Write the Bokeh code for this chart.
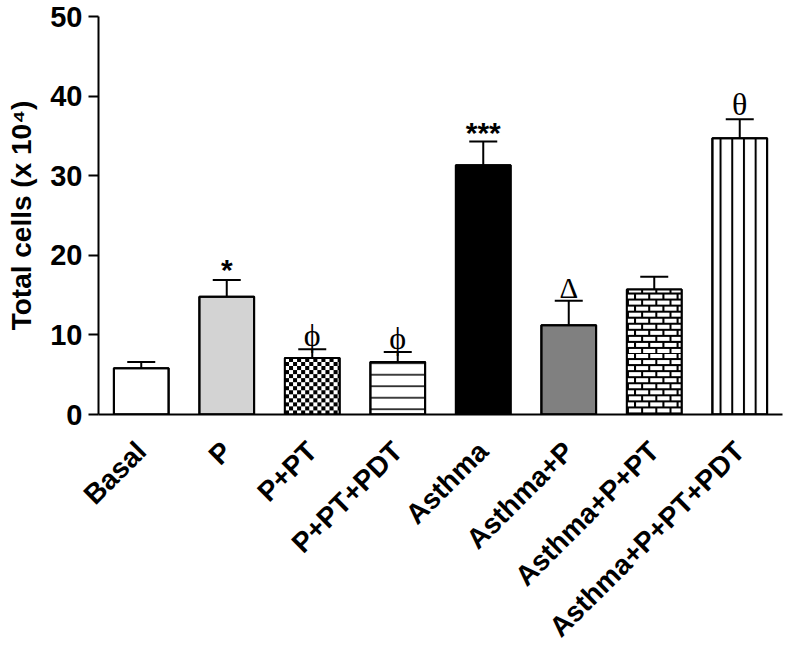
import math
import numpy as np
from bokeh.plotting import figure
from bokeh.models import (ColumnDataSource, Range1d, FactorRange, Whisker, TeeHead,
                          FixedTicker)
from bokeh.transform import dodge
from bokeh.embed import file_html
from bokeh.resources import INLINE

# ---- data ----
groups = ["Basal", "P", "P+PT", "P+PT+PDT", "Asthma", "Asthma+P",
          "Asthma+P+PT", "Asthma+P+PT+PDT"]
means = [5.8, 14.8, 7.1, 6.6, 31.3, 11.2, 15.7, 34.7]
sems = [0.8, 2.1, 1.1, 1.25, 3.0, 3.1, 1.6, 2.4]
marks = ["", "*", "ϕ", "ϕ", "***", "Δ", "", "θ"]
y_ticks = [0, 10, 20, 30, 40, 50]

# ---- styles ----
BAR_W = 0.64
fills = ["white", "#d3d3d3", "white", "white", "black", "#808080", "white", "white"]
hatches = [" ", " ", " ", "-", " ", " ", " ", "|"]
hatch_scales = [12, 12, 12, 11.5, 12, 12, 12, 11.7]
hatch_weights = [1, 1, 1, 1.5, 1, 1, 1, 2]
textured = {2: "checker", 6: "brick"}   # bar index -> bitmap texture
mark_fonts = ["Liberation Sans", "Liberation Sans", "Liberation Serif", "Liberation Serif",
              "Liberation Sans", "Liberation Serif", "Liberation Serif", "Liberation Serif"]
mark_sizes = ["28px", "30px", "32px", "32px", "30px", "29px", "28px", "32px"]
mark_styles = ["normal", "bold", "normal", "normal", "bold", "normal", "normal", "normal"]
mark_offsets = [0, -10, -14, -14, -9, -13, 0, -15]

upper = [m + s for m, s in zip(means, sems)]

src = ColumnDataSource(dict(
    groups=groups, means=means, upper=upper, marks=marks,
    fills=fills, hatches=hatches, hscale=hatch_scales, hweight=hatch_weights,
    mfont=mark_fonts, msize=mark_sizes, mstyle=mark_styles, moff=mark_offsets,
))


def to_rgba(black):
    h, w = black.shape
    img = np.zeros((h, w), dtype=np.uint32)
    v = img.view(dtype=np.uint8).reshape((h, w, 4))
    g = np.where(black, 0, 255).astype(np.uint8)
    v[..., 0] = g
    v[..., 1] = g
    v[..., 2] = g
    v[..., 3] = 255
    return img


def checker_texture(h, w, cell=4):
    r = np.arange(h)[:, None] // cell
    c = np.arange(w)[None, :] // cell
    return to_rgba((r + c) % 2 == 0)


def brick_texture(h, w, row=6, bw=14, mortar=2):
    r = np.arange(h)[:, None]
    c = np.arange(w)[None, :]
    shift = ((r // row) % 2) * (bw // 2)
    return to_rgba((r % row < mortar) | (((c + shift) % bw) < mortar))


PX_PER_UNIT = 8      # approx texture resolution (pixels per y unit)
TEX_W = 55           # approx bar width in pixels
tex_groups, tex_means, tex_imgs = [], [], []
for i, kind in textured.items():
    h = int(round(means[i] * PX_PER_UNIT))
    tex_groups.append(groups[i])
    tex_means.append(means[i])
    tex_imgs.append(checker_texture(h, TEX_W) if kind == "checker" else brick_texture(h, TEX_W))
tex_src = ColumnDataSource(dict(groups=tex_groups, means=tex_means, img=tex_imgs))

p = figure(width=786, height=656, x_range=FactorRange(factors=groups),
           y_range=Range1d(0, 50), output_backend="svg", toolbar_location=None,
           min_border_left=98, min_border_top=16, min_border_right=4, min_border_bottom=10)

p.vbar(x="groups", top="means", bottom=0, width=BAR_W, source=src,
       fill_color="fills", line_color="black", line_width=2,
       hatch_pattern="hatches", hatch_scale="hscale", hatch_weight="hweight",
       hatch_color="black")

p.image_rgba(image="img", x=dodge("groups", -BAR_W / 2, range=p.x_range), y=0,
             dw=BAR_W, dh="means", source=tex_src)

p.vbar(x="groups", top="means", bottom=0, width=BAR_W, source=src,
       fill_color=None, line_color="black", line_width=2)

w = Whisker(source=src, base="groups", upper="upper", lower="means",
            dimension="height", line_width=2, line_color="black",
            upper_head=TeeHead(size=28, line_width=2, line_color="black"),
            lower_head=None)
p.add_layout(w)

p.text(x="groups", y="upper", text="marks", source=src, text_font="mfont",
       text_font_size="msize", text_font_style="mstyle", text_align="center",
       text_baseline="alphabetic", y_offset="moff", text_color="black")

p.outline_line_color = None
p.xgrid.grid_line_color = None
p.ygrid.grid_line_color = None
p.background_fill_color = "white"
p.border_fill_color = "white"

for ax in (p.xaxis[0], p.yaxis[0]):
    ax.axis_line_width = 2
    ax.axis_line_color = "black"
    ax.major_label_text_font = "Liberation Sans"
    ax.major_label_text_font_style = "bold"
    ax.major_label_text_color = "black"
    ax.minor_tick_line_color = None

p.yaxis.ticker = FixedTicker(ticks=y_ticks)
p.yaxis.major_label_text_font_size = "29px"
p.yaxis.major_tick_out = 10
p.yaxis.major_tick_in = 0
p.yaxis.major_tick_line_width = 2
p.yaxis.major_label_standoff = 6
p.yaxis.axis_label = "Total cells (x 10⁴)"
p.yaxis.axis_label_text_font = "Liberation Sans"
p.yaxis.axis_label_text_font_style = "bold"
p.yaxis.axis_label_text_font_size = "28px"
p.yaxis.axis_label_text_color = "black"
p.yaxis.axis_label_standoff = 10

p.xaxis.major_label_text_font_size = "28px"
p.xaxis.major_tick_line_color = None
p.xaxis.major_tick_out = 0
p.xaxis.major_tick_in = 0
p.xaxis.major_label_orientation = math.pi / 4
p.xaxis.major_label_standoff = 32

open("out.html", "w").write(file_html(p, INLINE))
